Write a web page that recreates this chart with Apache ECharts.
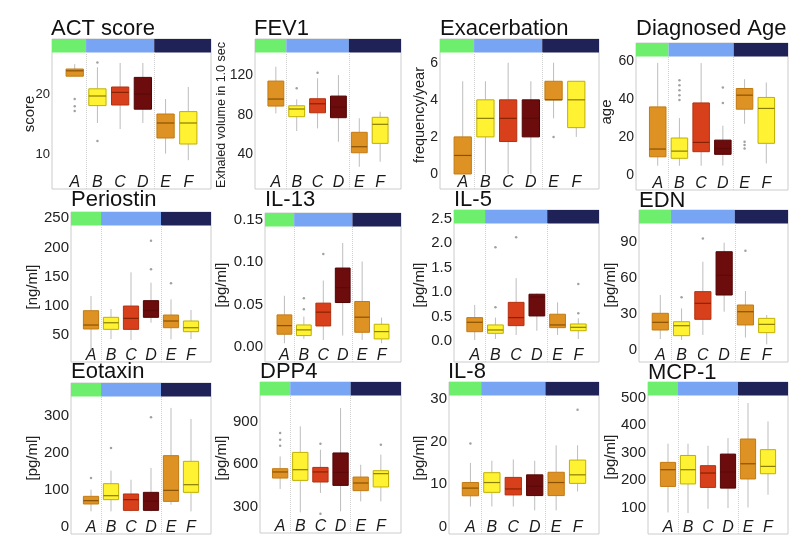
<!DOCTYPE html>
<html><head><meta charset="utf-8">
<script src="https://cdn.jsdelivr.net/npm/echarts@6/dist/echarts.min.js"></script>
<style>html,body{margin:0;padding:0;background:#fff}#c{width:807px;height:544px}</style>
</head><body><div id="c"></div>
<script>
// ---- data ----
const categories = ['A', 'B', 'C', 'D', 'E', 'F'];

// each row: [min, Q1, median, Q3, max]
const actScore = [[23, 23, 23.9, 24.2, 25], [15.2, 18.1, 19.7, 20.9, 24.5], [14.2, 18.2, 20.3, 21.2, 25.2], [15.2, 17.5, 20, 22.8, 25.2], [10.1, 12.7, 15.2, 16.7, 19.2], [9, 11.7, 15.2, 17.1, 21.2]];
const actOutliers = [[0, 19.2], [0, 18], [0, 17.2], [1, 25.3], [1, 12.2]];
const actTicks = [10, 20];

const fev1 = [[81.7, 89.1, 96.2, 114.4, 128.9], [63.8, 78.3, 86.1, 89.4, 95.9], [66.5, 82.3, 91.4, 96.5, 117.2], [53, 77.3, 88, 99.2, 120.5], [27.6, 41.8, 47.9, 62.5, 76.7], [32.7, 51.3, 70.6, 77.7, 83.3]];
const fev1Outliers = [[1, 107], [2, 122.8]];
const fev1Ticks = [40, 80, 120];

const exacerbation = [[0, 0, 1, 2, 5], [0, 2, 3, 4, 5], [0, 1.75, 3, 4, 6], [0, 2, 3, 4, 5], [3, 4, 4, 5, 6], [2, 2.5, 4, 5, 5]];
const exacerbationOutliers = [[4, 2]];
const exacerbationTicks = [0, 2, 4, 6];

const diagnosedAge = [[4.9, 9.6, 13.7, 35.9, 59.1], [4.9, 8.8, 12.6, 19.5, 30], [4.9, 12.3, 17.2, 38, 59], [5, 10.9, 14, 18.4, 26], [27, 34.7, 42.1, 45.6, 50.5], [6.1, 16.7, 35.1, 40.9, 48.8]];
const diagnosedAgeOutliers = [[1, 50], [1, 47.3], [1, 44.7], [1, 42], [1, 39.5], [3, 46.2], [3, 38], [4, 17.5], [4, 15.8], [4, 14]];
const diagnosedAgeTicks = [0, 20, 40, 60];

const periostin = [[24.3, 60.3, 67.1, 91.6, 116.8], [43, 59.7, 71, 80.3, 94.5], [41.4, 59.7, 78.5, 99.6, 157.3], [71, 80.3, 92, 108.8, 139.6], [42.6, 62.5, 74, 84.2, 111], [43, 55.7, 62.5, 74, 92.8]];
const periostinOutliers = [[3, 162.4], [3, 211.5], [4, 138.5]];
const periostinTicks = [50, 100, 150, 200, 250];

const il13 = [[0.0047, 0.0153, 0.0254, 0.038, 0.0604], [0.0098, 0.0137, 0.0204, 0.0262, 0.036], [0.0086, 0.025, 0.0412, 0.0518, 0.0784], [0.0137, 0.0525, 0.07, 0.093, 0.1224], [0.0086, 0.0176, 0.0353, 0.0537, 0.1007], [0.0047, 0.0098, 0.0184, 0.027, 0.0348]];
const il13Outliers = [[1, 0.0576], [1, 0.0447], [2, 0.1094]];
const il13Ticks = [0, 0.05, 0.10, 0.15];

const il5 = [[0.02, 0.19, 0.383, 0.478, 0.738], [0.041, 0.157, 0.225, 0.328, 0.478], [0.123, 0.314, 0.478, 0.79, 1.285], [0.21, 0.512, 0.9, 0.957, 0.97], [0.123, 0.273, 0.328, 0.547, 0.79], [0.04, 0.21, 0.28, 0.348, 0.465]];
const il5Outliers = [[1, 0.69], [1, 1.92], [2, 2.125], [5, 0.567], [5, 1.168]];
const il5Ticks = [0, 0.5, 1.0, 1.5, 2.0, 2.5];

const edn = [[9.1, 16.6, 23, 30.5, 45.7], [8.3, 11.9, 20.2, 23.5, 34.6], [12.5, 25.5, 38.8, 48.5, 73.4], [31.8, 45.7, 62, 81.7, 89.2], [10.3, 20.8, 31.8, 37.4, 49], [4.7, 14.4, 21.3, 26.3, 29.1]];
const ednOutliers = [[1, 43.8], [2, 92.8], [4, 82.5]];
const ednTicks = [0, 30, 60, 90];

const eotaxin = [[42.4, 62.3, 71.3, 83, 101], [42.4, 74, 84.8, 117.3, 152.6], [42.4, 45, 74, 89.4, 128], [42.4, 45, 70, 93.8, 160], [60.4, 69.4, 99.2, 193.2, 322.5], [42.4, 93.8, 114.6, 177.8, 292.7]];
const eotaxinOutliers = [[0, 132.8], [1, 214], [3, 297]];
const eotaxinTicks = [0, 100, 200, 300];

const dpp4 = [[423, 500, 543, 566, 653], [258, 483.5, 559, 681, 865], [394.6, 472, 543, 575, 700], [265, 448, 540, 677, 994], [335, 411, 465, 507, 594], [335, 437, 531, 552, 665]];
const dpp4Outliers = [[0, 818], [0, 771], [0, 728], [2, 742], [2, 248], [5, 735]];
const dpp4Ticks = [300, 600, 900];

const il8 = [[4.8, 7.3, 9.1, 10.4, 15], [4.8, 8.1, 10.4, 12.7, 15.5], [4.8, 7.5, 8.9, 11.6, 15.8], [3.9, 7.35, 9.5, 12.2, 15.5], [3.9, 7.35, 10.4, 12.8, 19.1], [8.3, 10.2, 12.2, 15.65, 19.1]];
const il8Outliers = [[0, 19.5], [5, 27.4]];
const il8Ticks = [0, 10, 20, 30];

const mcp1 = [[84, 178, 238.5, 265, 332.5], [82, 187, 238.5, 290, 332.5], [97.5, 174.5, 226.5, 253, 325], [100, 172, 230, 295, 353], [102, 205, 260, 349.5, 479.7], [148, 224, 250.5, 311, 413]];
const mcp1Outliers = [];
const mcp1Ticks = [100, 200, 300, 400, 500];

// ---- styles ----
const groupColors = ['#6DEE6D', '#78A4F4', '#1F2257'];
const boxFill = ['#DE9224', '#FFF232', '#D8401C', '#6C0C0C', '#DE9224', '#FFF232'];
const boxEdge = ['#C27A12', '#BFB000', '#B3300F', '#520505', '#C27A12', '#BFB000'];
const medColor = ['#8A5200', '#8A7D00', '#8A2200', '#5E0909', '#8A5200', '#8A7D00'];
const FONT = 'Liberation Sans, Arial, Helvetica, sans-serif';

const panels = [
  {title: 'ACT score', yName: 'score', box: actScore, out: actOutliers, ticks: actTicks, dec: 0, l: 52, t: 39, w: 159, h: 150, yMin: 4.2, yMax: 29.2, tx: 51, ty: 18, nx: 29.5, ny: 114, ns: 15, fs: 13},
  {title: 'FEV1', yName: 'Exhaled volume in 1.0 sec', box: fev1, out: fev1Outliers, ticks: fev1Ticks, dec: 0, l: 255, t: 39, w: 146, h: 150, yMin: 5.1, yMax: 157, tx: 254, ty: 18, nx: 222, ny: 115, ns: 12.5, fs: 14},
  {title: 'Exacerbation', yName: 'frequency/year', box: exacerbation, out: exacerbationOutliers, ticks: exacerbationTicks, dec: 0, l: 440, t: 39, w: 159, h: 150, yMin: -0.81, yMax: 7.28, tx: 440, ty: 18, nx: 420, ny: 115, ns: 14.5, fs: 14},
  {title: 'Diagnosed Age', yName: 'age', box: diagnosedAge, out: diagnosedAgeOutliers, ticks: diagnosedAgeTicks, dec: 0, l: 636, t: 43, w: 152, h: 147, yMin: -7.9, yMax: 69.6, tx: 636, ty: 18, nx: 607, ny: 112, ns: 15, fs: 14},
  {title: 'Periostin', yName: '[ng/ml]', box: periostin, out: periostinOutliers, ticks: periostinTicks, dec: 0, l: 71, t: 212, w: 140, h: 150, yMin: 3.8, yMax: 260.6, tx: 71, ty: 189, nx: 32.5, ny: 287, ns: 15, fs: 15},
  {title: 'IL-13', yName: '[pg/ml]', box: il13, out: il13Outliers, ticks: il13Ticks, dec: 2, l: 265, t: 213, w: 136, h: 149, yMin: -0.0173, yMax: 0.1576, tx: 265, ty: 189, nx: 222, ny: 285, ns: 15, fs: 15},
  {title: 'IL-5', yName: '[pg/ml]', box: il5, out: il5Outliers, ticks: il5Ticks, dec: 1, l: 454, t: 210, w: 145, h: 152, yMin: -0.43, yMax: 2.68, tx: 454, ty: 189, nx: 420, ny: 285, ns: 15, fs: 15},
  {title: 'EDN', yName: '[pg/ml]', box: edn, out: ednOutliers, ticks: ednTicks, dec: 0, l: 639, t: 210, w: 149, h: 152, yMin: -10, yMax: 116.4, tx: 639, ty: 190, nx: 611, ny: 285, ns: 15, fs: 15},
  {title: 'Eotaxin', yName: '[pg/ml]', box: eotaxin, out: eotaxinOutliers, ticks: eotaxinTicks, dec: 0, l: 71, t: 383, w: 140, h: 151, yMin: -19, yMax: 390, tx: 71, ty: 361, nx: 33, ny: 458, ns: 15, fs: 15},
  {title: 'DPP4', yName: '[pg/ml]', box: dpp4, out: dpp4Outliers, ticks: dpp4Ticks, dec: 0, l: 260, t: 382, w: 141, h: 151, yMin: 112, yMax: 1178, tx: 260, ty: 361, nx: 222, ny: 458, ns: 15, fs: 15},
  {title: 'IL-8', yName: '[pg/ml]', box: il8, out: il8Outliers, ticks: il8Ticks, dec: 0, l: 449, t: 382, w: 150, h: 152, yMin: -1.63, yMax: 33.9, tx: 448, ty: 361, nx: 420, ny: 458, ns: 15, fs: 15},
  {title: 'MCP-1', yName: '[pg/ml]', box: mcp1, out: mcp1Outliers, ticks: mcp1Ticks, dec: 0, l: 648, t: 382, w: 140, h: 152, yMin: 6, yMax: 555.7, tx: 648, ty: 362, nx: 611, ny: 457, ns: 15, fs: 15}
];

function renderBox(params, api) {
  const x = api.value(0);
  const lo = api.coord([x, api.value(1)]);
  const q1 = api.coord([x, api.value(2)]);
  const md = api.coord([x, api.value(3)]);
  const q3 = api.coord([x, api.value(4)]);
  const hi = api.coord([x, api.value(5)]);
  const bw = api.size([1, 0])[0] * 0.76;
  const i = params.dataIndex;
  return {
    type: 'group',
    children: [
      {type: 'line', shape: {x1: lo[0], y1: lo[1], x2: q1[0], y2: q1[1]}, style: {stroke: '#bdbdbd', lineWidth: 1}},
      {type: 'line', shape: {x1: q3[0], y1: q3[1], x2: hi[0], y2: hi[1]}, style: {stroke: '#bdbdbd', lineWidth: 1}},
      {type: 'rect', shape: {x: q3[0] - bw / 2, y: q3[1], width: bw, height: q1[1] - q3[1]}, style: {fill: boxFill[i], stroke: boxEdge[i], lineWidth: 1}},
      {type: 'line', shape: {x1: md[0] - bw / 2, y1: md[1], x2: md[0] + bw / 2, y2: md[1]}, style: {stroke: medColor[i], lineWidth: 1.2}}
    ]
  };
}

const option = {animation: false, backgroundColor: '#fff', title: [], grid: [], xAxis: [], yAxis: [], series: [], graphic: []};

panels.forEach((p, k) => {
  option.title.push({text: p.title, left: p.tx, top: p.ty, padding: 0,
    textStyle: {fontSize: 22, fontWeight: 'normal', color: '#111', fontFamily: FONT}});
  option.grid.push({left: p.l, top: p.t, width: p.w, height: p.h, show: true, borderColor: '#cccccc', borderWidth: 1,
    backgroundColor: 'transparent', containLabel: false, outerBoundsMode: 'none'});
  option.xAxis.push({type: 'value', gridIndex: k, min: -1, max: 6, interval: 1,
    axisLine: {show: false}, axisTick: {show: false}, splitLine: {show: false},
    axisLabel: {inside: true, margin: -2, customValues: [0, 1, 2, 3, 4, 5], formatter: v => categories[Math.round(v)] || '',
      fontSize: 16, fontStyle: 'italic', color: '#1a1a1a', fontFamily: FONT}});
  option.yAxis.push({type: 'value', gridIndex: k, min: p.yMin, max: p.yMax,
    axisLine: {show: false}, axisTick: {show: false}, splitLine: {show: false},
    axisLabel: {customValues: p.ticks, formatter: v => Number(v).toFixed(p.dec), margin: 2, fontSize: p.fs, color: '#222', fontFamily: FONT}});
  const hb = p.yMax - (p.yMax - p.yMin) * 13.5 / p.h;
  option.series.push({
    type: 'custom', xAxisIndex: k, yAxisIndex: k,
    data: p.box.map((d, i) => [i].concat(d)),
    encode: {x: 0, y: [1, 2, 3, 4, 5]},
    renderItem: renderBox,
    markArea: {silent: true, data: [
      [{xAxis: -1, yAxis: hb, itemStyle: {color: groupColors[0]}}, {xAxis: 0.5, yAxis: p.yMax}],
      [{xAxis: 0.5, yAxis: hb, itemStyle: {color: groupColors[1]}}, {xAxis: 3.5, yAxis: p.yMax}],
      [{xAxis: 3.5, yAxis: hb, itemStyle: {color: groupColors[2]}}, {xAxis: 6, yAxis: p.yMax}]
    ]},
    markLine: {silent: true, symbol: ['none', 'none'], label: {show: false},
      lineStyle: {color: '#d0d0d0', type: 'dotted', width: 1},
      data: [
        [{coord: [0.5, p.yMin]}, {coord: [0.5, hb]}],
        [{coord: [3.5, p.yMin]}, {coord: [3.5, hb]}]
      ]}
  });
  option.series.push({type: 'scatter', xAxisIndex: k, yAxisIndex: k, data: p.out, symbolSize: 2.5,
    itemStyle: {color: '#8a8a8a'}, silent: true});
  option.graphic.push({type: 'text', x: p.nx, y: p.ny, rotation: Math.PI / 2,
    style: {text: p.yName, fontSize: p.ns, fill: '#222', fontFamily: FONT, align: 'center', verticalAlign: 'middle'}});
});

const chart = echarts.init(document.getElementById('c'), null, {renderer: 'canvas'});
chart.setOption(option);
</script>
</body></html>
